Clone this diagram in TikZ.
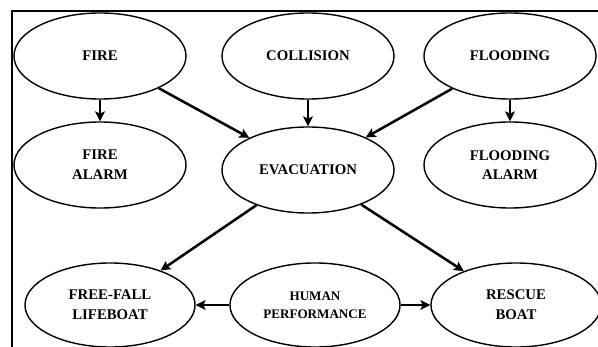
\documentclass[tikz,border=0pt]{standalone}
\usepackage{fontspec}
\setmainfont{Liberation Serif}
\usetikzlibrary{arrows.meta,shapes.geometric}

\begin{document}
\begin{tikzpicture}[x=0.025cm,y=-0.025cm,font=\fontsize{10.5}{14}\selectfont\bfseries,
  event/.style={ellipse,draw,line width=1pt,minimum width=4.3cm,minimum height=2.15cm,inner sep=0pt,align=center},
  link/.style={line width=1.8pt,-{Stealth[length=7pt,width=7pt,inset=1.5pt]}},
  side/.style={line width=1pt,-{Stealth[length=7pt,width=7pt,inset=1.5pt]}}]
\useasboundingbox (0,0) rectangle (598,347);
\draw[line width=1.2pt] (598,11) -- (12,11) -- (12,347);
\node[event] (fire) at (100,56) {FIRE};
\node[event] (collision) at (308,56) {COLLISION};
\node[event] (flooding) at (510,56) {FLOODING};
\node[event] (firealarm) at (100,165) {FIRE\\ALARM};
\node[event] (evac) at (308,170) {EVACUATION};
\node[event] (floodalarm) at (510,165) {FLOODING\\ALARM};
\node[event,minimum width=4.25cm,minimum height=2.1cm] (freefall) at (110,305) {FREE-FALL\\LIFEBOAT};
\node[event,minimum width=4.25cm,minimum height=2.1cm,font=\fontsize{9.3}{12.5}\selectfont\bfseries] (human) at (315,305) {HUMAN\\PERFORMANCE};
\node[event,minimum width=4.25cm,minimum height=2.1cm] (rescue) at (516,305) {RESCUE\\BOAT};
\draw[link] (fire) -- (firealarm);
\draw[link] (fire) -- (evac);
\draw[link] (collision) -- (evac);
\draw[link] (flooding) -- (evac);
\draw[link] (flooding) -- (floodalarm);
\draw[link] (evac) -- (freefall);
\draw[link] (evac) -- (rescue);
\draw[side] (human) -- (freefall);
\draw[side] (human) -- (rescue);
\end{tikzpicture}
\end{document}
